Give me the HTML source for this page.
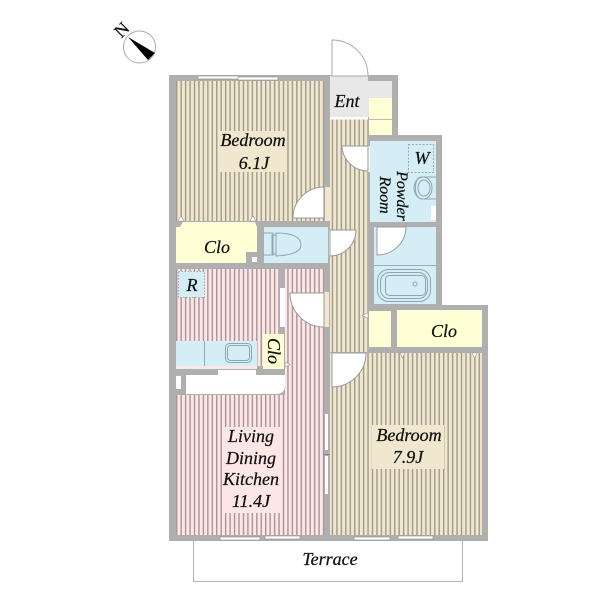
<!DOCTYPE html>
<html><head><meta charset="utf-8"><style>
html,body{margin:0;padding:0;background:#fff}
svg{display:block}
text{font-family:"Liberation Serif",serif;font-style:italic;fill:#111;stroke:#111;stroke-width:.25;text-anchor:middle;font-size:18px}
</style></head><body>
<svg width="600" height="600" viewBox="0 0 600 600" xmlns="http://www.w3.org/2000/svg">
<defs>
<pattern id="b" x="176" y="0" width="4.45" height="10" patternUnits="userSpaceOnUse"><rect width="4.45" height="10" fill="#f1e7cf"/><rect x="0" width="1.4" height="10" fill="#a09a8c"/></pattern>
<pattern id="p" x="176" y="0" width="4.45" height="10" patternUnits="userSpaceOnUse"><rect width="4.45" height="10" fill="#fde6e6"/><rect x="0" width="1.4" height="10" fill="#a89496"/></pattern>
</defs>
<!-- terrace -->
<path d="M193.500 541V581.500H462.500V541" fill="#fff" stroke="#b4b4b4"/>
<!-- wall mass -->
<path d="M169 75H398V135H442V305H488V541H169Z" fill="#afafaf"/>
<!-- floors -->
<rect x="176" y="81" width="148" height="140" fill="url(#b)"/>
<rect x="330" y="119" width="38" height="233" fill="url(#b)"/>
<rect x="330" y="353" width="152" height="182" fill="url(#b)"/>
<rect x="176" y="269" width="103" height="97" fill="url(#p)"/>
<rect x="285" y="269" width="39" height="126" fill="url(#p)"/>
<rect x="176" y="395" width="148" height="140" fill="url(#p)"/>
<!-- entry -->
<path d="M330 76H368V81H392V98H369V117H330Z" fill="#e8e8e8"/>
<rect x="330" y="117" width="38" height="2.500" fill="#fff"/>
<rect x="369" y="98" width="23" height="37" fill="#ffffd6"/>
<path d="M369 119.500H392" stroke="#bbb" fill="none"/>
<!-- closets -->
<path d="M176 227H180L183 222H255L257 227V252H246V263H176Z" fill="#ffffd6"/>
<rect x="252" y="257" width="5" height="5" fill="#fff"/>
<rect x="397" y="310" width="85" height="37" fill="#ffffd6"/>
<rect x="369" y="311" width="22" height="36" fill="#ffffd6"/>
<rect x="263" y="334" width="21" height="35" fill="#ffffd6"/>
<!-- blue rooms -->
<path d="M370 141H436V222H378V227H436V304H374V227H378V222H370Z" fill="#d5eef5"/>
<rect x="264" y="227" width="64" height="36" fill="#d5eef5"/>
<rect x="178" y="271" width="27" height="26" fill="#d5eef5"/>
<rect x="176" y="341" width="81" height="25" fill="#d5eef5"/>
<path d="M204.500 341V366M374 265.500H436" stroke="#9ab" fill="none"/>
<rect x="176" y="366" width="81" height="3" fill="#fde6e6"/>
<rect x="178.500" y="271.500" width="26" height="26" fill="none" stroke="#9ab" stroke-dasharray="1.500 1.500"/>
<!-- powder room fixtures -->
<rect x="408.500" y="144.500" width="25" height="28" fill="none" stroke="#9ab" stroke-dasharray="2 1.500"/>
<path d="M436 177H421C414 177 413 197 421 199H436" fill="#d5eef5" stroke="#8fa6ae"/>
<ellipse cx="423" cy="188" rx="9" ry="11" fill="none" stroke="#8fa6ae"/>
<ellipse cx="424" cy="188" rx="6" ry="8" fill="none" stroke="#8fa6ae"/>
<rect x="431" y="206" width="5" height="14" fill="#fff"/>
<!-- toilet -->
<path d="M263 233H273V255H263" fill="none" stroke="#8fa6ae"/>
<path d="M272 235H276V254H272Z" fill="none" stroke="#8fa6ae"/>
<path d="M276 233C295 233 301 238 301 245C301 251 294 255 276 256Z" fill="none" stroke="#8fa6ae"/>
<!-- bath -->
<rect x="377.500" y="269.500" width="53" height="32" rx="11" fill="none" stroke="#8fa6ae"/>
<rect x="380.500" y="272.500" width="47" height="26" rx="9" fill="none" stroke="#8fa6ae"/>
<rect x="385.500" y="275.500" width="40" height="20" rx="4" fill="none" stroke="#8fa6ae"/>
<circle cx="415" cy="284" r="2" fill="none" stroke="#8fa6ae"/>
<!-- sink -->
<rect x="225.500" y="343.500" width="26" height="19" rx="4" fill="none" stroke="#8fa6ae"/>
<rect x="227.500" y="345.500" width="22" height="15" rx="3" fill="none" stroke="#8fa6ae"/>
<!-- white bits -->
<path d="M186 375H285V385Q285 394 276 394H186Z" fill="#fff"/>
<rect x="176" y="376" width="5" height="13" fill="#fff"/>
<rect x="218" y="370" width="38" height="5" fill="#fff"/>
<rect x="280" y="288" width="5" height="39" fill="#fff"/>
<rect x="324" y="292" width="5" height="35" fill="#f1e7cf"/>
<rect x="325" y="187" width="5" height="34" fill="#f1e7cf"/>
<rect x="368" y="146" width="2" height="26" fill="#fff"/>
<rect x="329" y="230" width="2" height="26" fill="#fff"/>
<rect x="325" y="414" width="3" height="36" fill="#fff"/>
<rect x="325" y="456" width="3" height="38" fill="#fff"/>
<path d="M324 454.500H330" stroke="#888"/>
<rect x="332" y="76" width="36" height="6" fill="#e8e8e8"/>
<!-- doors -->
<path d="M332 40V76H368A36 36 0 0 0 332 40Z" fill="#fff" stroke="#aaa"/>
<path d="M324 187V218H293A31 31 0 0 1 324 187Z" fill="#fff" stroke="#999"/>
<path d="M368 146H342A26 26 0 0 0 368 171Z" fill="#fff" stroke="#999"/>
<path d="M330 230H356A26 26 0 0 1 330 256Z" fill="#fff" stroke="#999"/>
<path d="M324 293H290A34 34 0 0 0 324 327Z" fill="#fff" stroke="#999"/>
<path d="M332 353H366A34 34 0 0 1 332 387Z" fill="#fff" stroke="#999"/>
<path d="M377 227H406A29 28 0 0 1 377 255Z" fill="#fff" stroke="#999"/>
<!-- windows -->
<g fill="#fff" stroke="#888" stroke-width=".6">
<rect x="198" y="76" width="41" height="3"/><rect x="238" y="77" width="40" height="3"/>
<rect x="220" y="537" width="40" height="3"/><rect x="265" y="536" width="35" height="3"/>
<rect x="354" y="537" width="36" height="3"/><rect x="398" y="536" width="35" height="3"/>
</g>
<!-- triangles -->
<g fill="#fff" stroke="#999" stroke-width=".6">
<path d="M178 221L181 216L184 221Z"/><path d="M250 221L253 216L256 221Z"/>
<path d="M400 353H405L402.500 358Z"/><path d="M472 353H477L474.500 358Z"/>
<path d="M362 315.500L368 313V318Z"/><path d="M290 364.500L285 362V367Z"/>
</g>
<!-- label backgrounds -->
<rect x="219" y="131" width="68" height="41" fill="#f1e7cf"/>
<rect x="372" y="425" width="72" height="44" fill="#f1e7cf"/>
<rect x="222" y="427" width="58" height="86" fill="#fde6e6"/>
<!-- labels -->
<text x="253" y="146">Bedroom</text>
<text x="254" y="169">6.1J</text>
<text x="409" y="441">Bedroom</text>
<text x="408" y="463">7.9J</text>
<text x="251" y="442">Living</text>
<text x="251" y="464">Dining</text>
<text x="251" y="485">Kitchen</text>
<text x="251" y="507">11.4J</text>
<text x="347" y="107">Ent</text>
<text x="217" y="253">Clo</text>
<text x="444" y="337">Clo</text>
<text x="192" y="291">R</text>
<text x="422" y="164">W</text>
<text x="330" y="565">Terrace</text>
<text transform="translate(268,351) rotate(90)">Clo</text>
<text transform="translate(397,196) rotate(90)" style="font-size:16px">Powder</text>
<text transform="translate(380,195) rotate(90)" style="font-size:16px">Room</text>
<!-- compass -->
<circle cx="139.500" cy="47" r="16" fill="#fff" stroke="#aaa"/>
<path d="M128 37L155 53L148 60Z" fill="#000"/>
<text transform="translate(126,34) rotate(-45)" style="font-style:normal;font-size:18px">N</text>
</svg>
</body></html>
